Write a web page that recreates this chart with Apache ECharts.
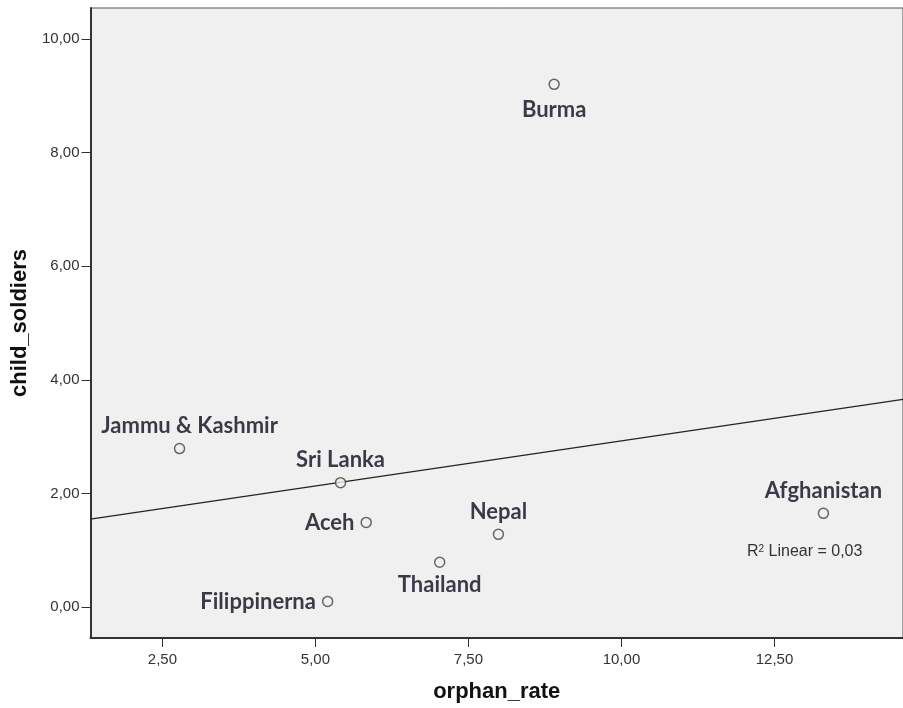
<!DOCTYPE html>
<html>
<head>
<meta charset="utf-8">
<script src="https://cdn.jsdelivr.net/npm/echarts@6/dist/echarts.min.js"></script>
<style>
html,body{margin:0;padding:0;background:#fff;}
#chart{width:903px;height:708px;}
</style>
</head>
<body>
<div id="chart"></div>
<script>
// Data
var countries = ['Burma', 'Jammu & Kashmir', 'Sri Lanka', 'Aceh', 'Thailand', 'Filippinerna', 'Nepal', 'Afghanistan'];
var orphanRate = [8.90, 2.78, 5.41, 5.83, 7.03, 5.20, 7.99, 13.30];
var childSoldiers = [9.20, 2.79, 2.19, 1.49, 0.79, 0.10, 1.28, 1.65];
var fitLineX = [1.325, 14.6];
var fitLineY = [1.549, 3.655];
var xTicks = [2.5, 5, 7.5, 10, 12.5];
var yTicks = [0, 2, 4, 6, 8, 10];
var rSquaredText = '0,03';

// label placement (style, not data)
var labelPos = {
  'Burma': 'bottom', 'Jammu & Kashmir': 'top', 'Sri Lanka': 'top', 'Aceh': 'left',
  'Thailand': 'bottom', 'Filippinerna': 'left', 'Nepal': 'top', 'Afghanistan': 'top'
};
var labelShift = { 'Jammu & Kashmir': [10, 0], 'Burma': [0, 3] };

function fmt(v) { return v.toFixed(2).replace('.', ','); }

var points = countries.map(function (c, i) {
  return {
    name: c,
    value: [orphanRate[i], childSoldiers[i]],
    label: { position: labelPos[c], offset: labelShift[c] || [0, 0] }
  };
});

var chart = echarts.init(document.getElementById('chart'));
chart.setOption({
  backgroundColor: '#ffffff',
  animation: false,
  grid: {
    left: 90.5, top: 8, width: 816, height: 632,
    show: true, backgroundColor: '#f0f0f0', borderColor: '#555', borderWidth: 1
  },
  xAxis: {
    type: 'value', min: 1.325, max: 14.6,
    name: 'orphan_rate', nameLocation: 'middle', nameGap: 43,
    nameTextStyle: { fontFamily: 'Liberation Sans, Arial', fontWeight: 'bold', fontSize: 22, color: '#111' },
    axisLine: { show: true, onZero: false, lineStyle: { color: '#333', width: 2 } },
    axisTick: { show: true, length: 9, customValues: xTicks, lineStyle: { color: '#333', width: 1 } },
    axisLabel: { customValues: xTicks, formatter: fmt, fontFamily: 'Liberation Sans, Arial', fontSize: 15, color: '#333', margin: 14 },
    splitLine: { show: false }
  },
  yAxis: {
    type: 'value', min: -0.544, max: 10.544,
    name: 'child_soldiers', nameLocation: 'middle', nameGap: 56,
    nameTextStyle: { fontFamily: 'Liberation Sans, Arial', fontWeight: 'bold', fontSize: 22, color: '#111' },
    axisLine: { show: true, onZero: false, lineStyle: { color: '#333', width: 2 } },
    axisTick: { show: true, length: 9, customValues: yTicks, lineStyle: { color: '#333', width: 1 } },
    axisLabel: { customValues: yTicks, formatter: fmt, fontFamily: 'Liberation Sans, Arial', fontSize: 15, color: '#333', margin: 11 },
    splitLine: { show: false }
  },
  series: [
    {
      type: 'line',
      data: fitLineX.map(function (x, i) { return [x, fitLineY[i]]; }),
      showSymbol: false, symbol: 'none',
      lineStyle: { color: '#222', width: 1.2 },
      silent: true, z: 2
    },
    {
      type: 'scatter',
      data: points,
      symbol: 'circle', symbolSize: 10,
      itemStyle: { color: '#f0f0f0', borderColor: '#444', borderWidth: 1.5 },
      label: {
        show: true, formatter: '{b}', distance: 6,
        fontFamily: 'Lato', fontWeight: 'bold', fontSize: 22, color: '#0c0c1c'
      },
      z: 3
    }
  ],
  graphic: [
    {
      type: 'text', left: 747, top: 544,
      style: {
        text: '{r|R}{s|2}{r| Linear = ' + rSquaredText + '}',
        rich: {
          r: { fontFamily: 'Liberation Sans, Arial', fontSize: 16, fill: '#333', verticalAlign: 'bottom' },
          s: { fontFamily: 'Liberation Sans, Arial', fontSize: 10, fill: '#333', verticalAlign: 'top', padding: [0, 0, 6, 0] }
        }
      }
    }
  ]
});
</script>
</body>
</html>
